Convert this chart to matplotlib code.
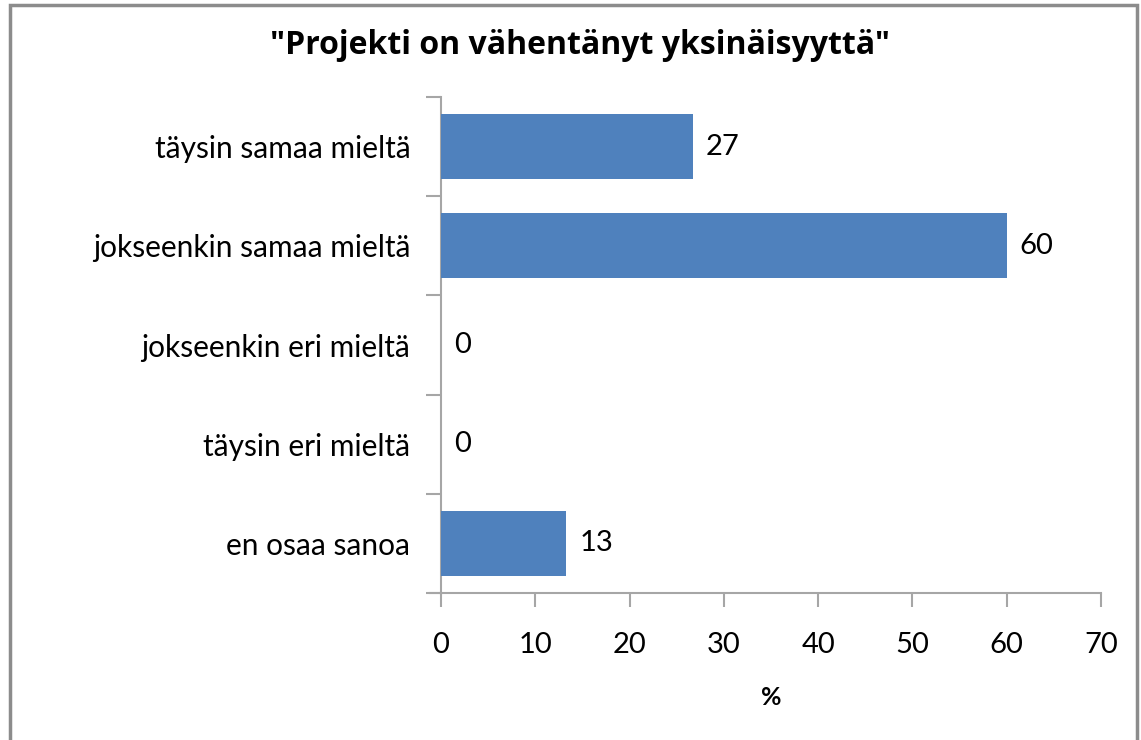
import matplotlib
matplotlib.use("Agg")
import matplotlib.pyplot as plt
from matplotlib.patches import Rectangle

categories = ["täysin samaa mieltä", "jokseenkin samaa mieltä", "jokseenkin eri mieltä",
              "täysin eri mieltä", "en osaa sanoa"]
values = [26.7, 60.0, 0.0, 0.0, 13.3]
xticks = [0, 10, 20, 30, 40, 50, 60, 70]
title = '"Projekti on vähentänyt yksinäisyyttä"'
xlabel = "%"

plt.rcParams['font.family'] = ['Lato', 'DejaVu Sans']

fig = plt.figure(figsize=(11.41, 7.40), dpi=100)
fig.patches.append(Rectangle((10/1141, -0.05), (1137-10)/1141, 1 - 5/740 + 0.05,
                             transform=fig.transFigure, fill=False,
                             edgecolor='#8c8c8c', linewidth=2.5, zorder=10))

ax = fig.add_axes([441/1141, 1-593/740, (1101-441)/1141, (593-97)/740])
n = len(categories)
ypos = list(range(n))
ax.barh(ypos, values, height=0.655, color='#4F81BD', zorder=3)
ax.set_ylim(n - 0.5, -0.5)
ax.set_xlim(0, 70)
ax.set_xticks(xticks)
ax.set_xticklabels([str(t) for t in xticks], fontsize=21)
ax.set_yticks(ypos)
ax.set_yticklabels(categories, fontsize=21.5)
ax.tick_params(axis='y', length=0, pad=22)
ax.tick_params(axis='x', length=10, width=1.5, color='#a6a6a6', pad=18)
# category boundary ticks
ax.set_yticks([i - 0.5 for i in range(n + 1)], minor=True)
ax.tick_params(axis='y', which='minor', length=11, width=1.5, color='#a6a6a6')
for s in ['top', 'right']:
    ax.spines[s].set_visible(False)
for s in ['left', 'bottom']:
    ax.spines[s].set_color('#a6a6a6')
    ax.spines[s].set_linewidth(1.5)
ax.plot([-11/660*70, 0], [n - 0.5, n - 0.5], color='#a6a6a6', lw=1.5, clip_on=False,
        transform=ax.transData)

for y, v in zip(ypos, values):
    ax.text(v + 1.35, y, f"{v:.0f}", va='center', ha='left', fontsize=21)

ax.set_xlabel(xlabel, fontsize=18, fontweight='bold', labelpad=20)
fig.text(580/1141, 1-45/740, title, ha='center', va='center', fontsize=23,
         fontweight='bold', family=['Open Sans', 'DejaVu Sans'])

fig.savefig("out.png", dpi=100)
